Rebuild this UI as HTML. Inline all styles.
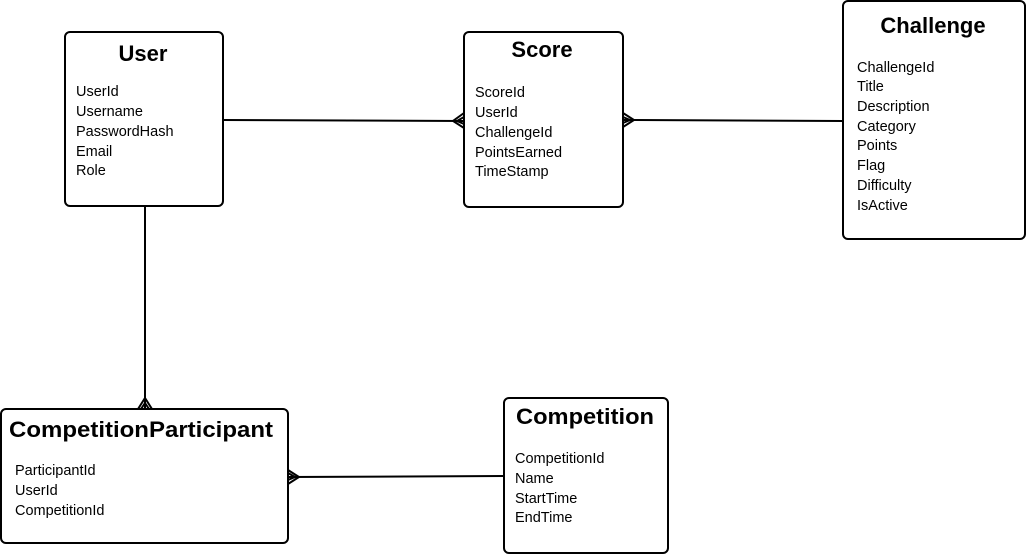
<!DOCTYPE html>
<html><head><meta charset="utf-8"><style>
html,body{margin:0;padding:0;background:#fff;}
svg{display:block;}
text{font-family:"Liberation Sans",sans-serif;fill:#000;}
.t{font-weight:bold;font-size:22px;}
.f{font-size:14.5px;}
</style></head><body>
<svg width="1028" height="556" viewBox="0 0 1028 556" xmlns="http://www.w3.org/2000/svg">
<g fill="none" stroke="#000" stroke-width="2">
<rect x="65" y="32" width="158" height="174" rx="5"/>
<rect x="464" y="32" width="159" height="175" rx="5"/>
<rect x="843" y="1" width="182" height="238" rx="5"/>
<rect x="1" y="409" width="287" height="134" rx="5"/>
<rect x="504" y="398" width="164" height="155" rx="5"/>
<!-- connectors -->
<line x1="223" y1="120" x2="464" y2="121"/>
<path d="M464 113 L453 121 L464 128 M464 117 L457 121 L464 124"/>
<line x1="623" y1="120" x2="843" y2="121"/>
<path d="M623 113 L634 120 L623 127 M623 117 L630 120 L623 123"/>
<line x1="145" y1="206" x2="145" y2="409"/>
<path d="M138 409 L145 398 L152 409 M141 409 L145 403 L149 409"/>
<line x1="288" y1="477" x2="504" y2="476"/>
<path d="M288 470 L299 477 L288 484 M288 473 L295 477 L288 480"/>
</g>
<text class="t" x="143" y="61" text-anchor="middle">User</text>
<text class="f" x="76" y="96">UserId</text>
<text class="f" x="76" y="116">Username</text>
<text class="f" x="76" y="136">PasswordHash</text>
<text class="f" x="76" y="156">Email</text>
<text class="f" x="76" y="175">Role</text>

<text class="t" x="542" y="57" text-anchor="middle">Score</text>
<text class="f" x="475" y="97">ScoreId</text>
<text class="f" x="475" y="117">UserId</text>
<text class="f" x="475" y="137">ChallengeId</text>
<text class="f" x="475" y="157">PointsEarned</text>
<text class="f" x="475" y="176">TimeStamp</text>

<text class="t" x="933" y="33" text-anchor="middle">Challenge</text>
<text class="f" x="857" y="72">ChallengeId</text>
<text class="f" x="857" y="91">Title</text>
<text class="f" x="857" y="111">Description</text>
<text class="f" x="857" y="131">Category</text>
<text class="f" x="857" y="150">Points</text>
<text class="f" x="857" y="170">Flag</text>
<text class="f" x="857" y="190">Difficulty</text>
<text class="f" x="857" y="210">IsActive</text>

<text class="t" x="9" y="437" textLength="264" lengthAdjust="spacingAndGlyphs">CompetitionParticipant</text>
<text class="f" x="15" y="475">ParticipantId</text>
<text class="f" x="15" y="495">UserId</text>
<text class="f" x="15" y="515">CompetitionId</text>

<text class="t" x="516" y="424" textLength="138" lengthAdjust="spacingAndGlyphs">Competition</text>
<text class="f" x="515" y="463">CompetitionId</text>
<text class="f" x="515" y="483">Name</text>
<text class="f" x="515" y="503">StartTime</text>
<text class="f" x="515" y="522">EndTime</text>
</svg>
</body></html>
